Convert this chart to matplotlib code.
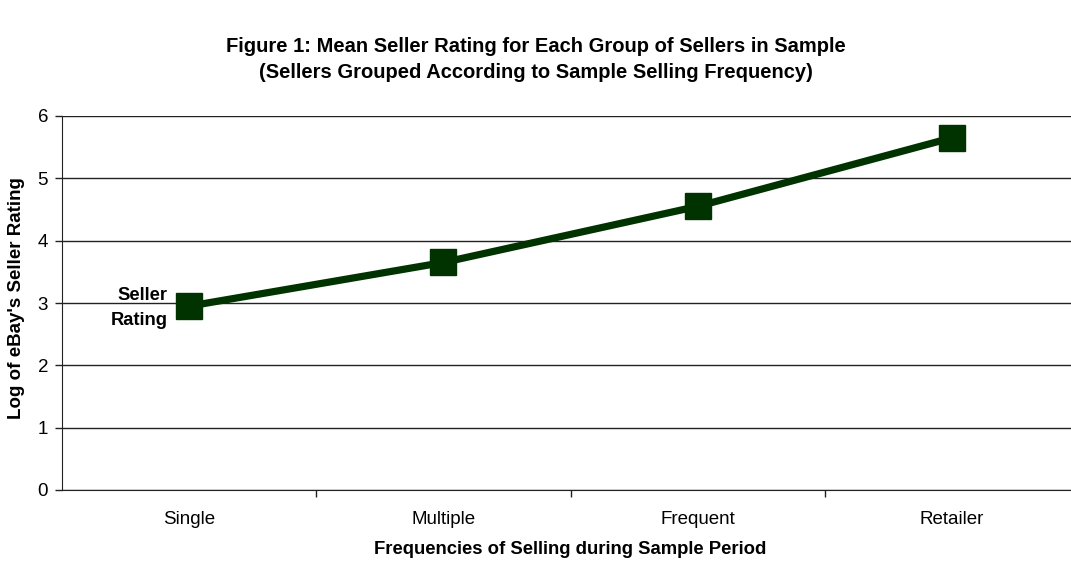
import matplotlib
matplotlib.use("Agg")
import matplotlib.pyplot as plt

categories = ["Single", "Multiple", "Frequent", "Retailer"]
values = [2.95, 3.65, 4.55, 5.65]
yticks = [0, 1, 2, 3, 4, 5, 6]

plt.rcParams['font.family'] = ['Liberation Sans', 'DejaVu Sans']

W, H = 1071, 561
fig = plt.figure(figsize=(W/100, H/100), dpi=100)
left = 62 / W
right = 1079 / W
bottom = (H - 490) / H
top = (H - 116) / H
ax = fig.add_axes([left, bottom, right - left, top - bottom])

x = list(range(len(categories)))
ax.plot(x, values, color="#003300", linewidth=5.2, marker="s", markersize=19,
        markerfacecolor="#003300", markeredgecolor="#003300", solid_capstyle="butt", zorder=3)

ax.set_xlim(-0.5, len(categories) - 0.5)
ax.set_ylim(0, 6)
ax.set_yticks(yticks)
ax.set_yticklabels([str(v) for v in yticks], fontsize=13.5)
for yv in yticks:
    ax.axhline(yv, color="#222222", linewidth=1.0, zorder=1)

ax.set_xticks(x)
ax.set_xticklabels(categories, fontsize=13.5)
ax.tick_params(axis='x', which='major', length=0, pad=15)
ax.set_xticks([i + 0.5 for i in range(len(categories) - 1)], minor=True)
ax.tick_params(axis='x', which='minor', length=5, width=1, color="#222222")
ax.tick_params(axis='y', length=5, width=1, color="#222222", pad=5)

for s in ["top", "right"]:
    ax.spines[s].set_visible(False)
ax.spines["left"].set_color("#222222")
ax.spines["bottom"].set_color("#222222")

fig.text(17 / W, 1 - 298 / H, "Log of eBay's Seller Rating", rotation=90,
         ha="center", va="center", fontsize=13.5, fontweight="bold")
fig.text(570 / W, 1 - 549 / H, "Frequencies of Selling during Sample Period",
         ha="center", va="center", fontsize=13.3, fontweight="bold")

ax.text(-0.085, values[0] - 0.03, "Seller\nRating", ha="right", va="center", fontsize=13.2,
        fontweight="bold", linespacing=1.6)

fig.text(0.5, 1 - 47 / H, "Figure 1: Mean Seller Rating for Each Group of Sellers in Sample",
         ha="center", va="center", fontsize=14.5, fontweight="bold")
fig.text(0.5, 1 - 72 / H, "(Sellers Grouped According to Sample Selling Frequency)",
         ha="center", va="center", fontsize=14.5, fontweight="bold")

fig.savefig("out.png", dpi=100)
